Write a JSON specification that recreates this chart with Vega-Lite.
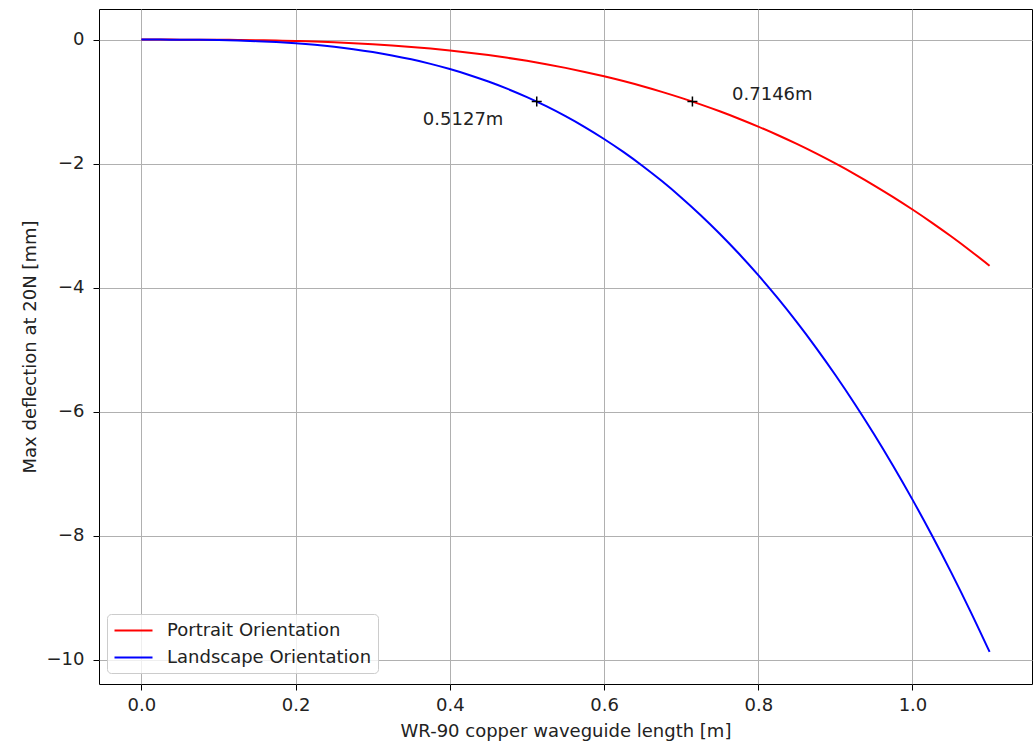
{
  "$schema": "https://vega.github.io/schema/vega-lite/v6.json",
  "width": 933,
  "height": 675,
  "autosize": {"type": "none"},
  "padding": {"left": 99, "top": 9, "right": 2, "bottom": 60},
  "background": "white",
  "config": {
    "font": "DejaVu Sans",
    "view": {"stroke": "black", "strokeWidth": 1},
    "axis": {
      "grid": true, "gridColor": "#b0b0b0", "gridWidth": 1,
      "domain": false, "tickColor": "black", "tickSize": 6, "tickWidth": 1,
      "labelFontSize": 18, "labelColor": "#222222", "labelPadding": 6,
      "titleFontSize": 18, "titleFontWeight": "normal", "titleColor": "#222222"
    }
  },
  "datasets": {
    "curves": [
      {"L": 0.0, "d": 0, "series": "Portrait Orientation"},
      {"L": 0.025, "d": -0.00004, "series": "Portrait Orientation"},
      {"L": 0.05, "d": -0.0003, "series": "Portrait Orientation"},
      {"L": 0.075, "d": -0.00116, "series": "Portrait Orientation"},
      {"L": 0.1, "d": -0.0027, "series": "Portrait Orientation"},
      {"L": 0.125, "d": -0.00535, "series": "Portrait Orientation"},
      {"L": 0.15, "d": -0.0092, "series": "Portrait Orientation"},
      {"L": 0.175, "d": -0.01469, "series": "Portrait Orientation"},
      {"L": 0.2, "d": -0.0219, "series": "Portrait Orientation"},
      {"L": 0.225, "d": -0.03122, "series": "Portrait Orientation"},
      {"L": 0.25, "d": -0.0428, "series": "Portrait Orientation"},
      {"L": 0.275, "d": -0.05699, "series": "Portrait Orientation"},
      {"L": 0.3, "d": -0.0740, "series": "Portrait Orientation"},
      {"L": 0.325, "d": -0.09407, "series": "Portrait Orientation"},
      {"L": 0.35, "d": -0.1175, "series": "Portrait Orientation"},
      {"L": 0.375, "d": -0.14451, "series": "Portrait Orientation"},
      {"L": 0.4, "d": -0.1754, "series": "Portrait Orientation"},
      {"L": 0.425, "d": -0.21037, "series": "Portrait Orientation"},
      {"L": 0.45, "d": -0.2497, "series": "Portrait Orientation"},
      {"L": 0.475, "d": -0.29369, "series": "Portrait Orientation"},
      {"L": 0.5, "d": -0.3426, "series": "Portrait Orientation"},
      {"L": 0.525, "d": -0.39654, "series": "Portrait Orientation"},
      {"L": 0.55, "d": -0.4559, "series": "Portrait Orientation"},
      {"L": 0.575, "d": -0.52097, "series": "Portrait Orientation"},
      {"L": 0.6, "d": -0.5919, "series": "Portrait Orientation"},
      {"L": 0.625, "d": -0.66904, "series": "Portrait Orientation"},
      {"L": 0.65, "d": -0.7526, "series": "Portrait Orientation"},
      {"L": 0.675, "d": -0.84280, "series": "Portrait Orientation"},
      {"L": 0.7, "d": -0.9400, "series": "Portrait Orientation"},
      {"L": 0.725, "d": -1.04431, "series": "Portrait Orientation"},
      {"L": 0.75, "d": -1.1561, "series": "Portrait Orientation"},
      {"L": 0.775, "d": -1.27561, "series": "Portrait Orientation"},
      {"L": 0.8, "d": -1.4031, "series": "Portrait Orientation"},
      {"L": 0.825, "d": -1.53878, "series": "Portrait Orientation"},
      {"L": 0.85, "d": -1.6830, "series": "Portrait Orientation"},
      {"L": 0.875, "d": -1.83585, "series": "Portrait Orientation"},
      {"L": 0.9, "d": -1.9978, "series": "Portrait Orientation"},
      {"L": 0.925, "d": -2.16890, "series": "Portrait Orientation"},
      {"L": 0.95, "d": -2.3496, "series": "Portrait Orientation"},
      {"L": 0.975, "d": -2.53997, "series": "Portrait Orientation"},
      {"L": 1.0, "d": -2.7404, "series": "Portrait Orientation"},
      {"L": 1.025, "d": -2.95111, "series": "Portrait Orientation"},
      {"L": 1.05, "d": -3.1723, "series": "Portrait Orientation"},
      {"L": 1.075, "d": -3.40439, "series": "Portrait Orientation"},
      {"L": 1.1, "d": -3.6475, "series": "Portrait Orientation"},
      {"L": 0.0, "d": 0, "series": "Landscape Orientation"},
      {"L": 0.025, "d": -0.00012, "series": "Landscape Orientation"},
      {"L": 0.05, "d": -0.0009, "series": "Landscape Orientation"},
      {"L": 0.075, "d": -0.00313, "series": "Landscape Orientation"},
      {"L": 0.1, "d": -0.0074, "series": "Landscape Orientation"},
      {"L": 0.125, "d": -0.01449, "series": "Landscape Orientation"},
      {"L": 0.15, "d": -0.0250, "series": "Landscape Orientation"},
      {"L": 0.175, "d": -0.03976, "series": "Landscape Orientation"},
      {"L": 0.2, "d": -0.0594, "series": "Landscape Orientation"},
      {"L": 0.225, "d": -0.08452, "series": "Landscape Orientation"},
      {"L": 0.25, "d": -0.1159, "series": "Landscape Orientation"},
      {"L": 0.275, "d": -0.15431, "series": "Landscape Orientation"},
      {"L": 0.3, "d": -0.2003, "series": "Landscape Orientation"},
      {"L": 0.325, "d": -0.25471, "series": "Landscape Orientation"},
      {"L": 0.35, "d": -0.3181, "series": "Landscape Orientation"},
      {"L": 0.375, "d": -0.39129, "series": "Landscape Orientation"},
      {"L": 0.4, "d": -0.4749, "series": "Landscape Orientation"},
      {"L": 0.425, "d": -0.56960, "series": "Landscape Orientation"},
      {"L": 0.45, "d": -0.6761, "series": "Landscape Orientation"},
      {"L": 0.475, "d": -0.79522, "series": "Landscape Orientation"},
      {"L": 0.5, "d": -0.9275, "series": "Landscape Orientation"},
      {"L": 0.525, "d": -1.07370, "series": "Landscape Orientation"},
      {"L": 0.55, "d": -1.2345, "series": "Landscape Orientation"},
      {"L": 0.575, "d": -1.41061, "series": "Landscape Orientation"},
      {"L": 0.6, "d": -1.6027, "series": "Landscape Orientation"},
      {"L": 0.625, "d": -1.81153, "series": "Landscape Orientation"},
      {"L": 0.65, "d": -2.0377, "series": "Landscape Orientation"},
      {"L": 0.675, "d": -2.28200, "series": "Landscape Orientation"},
      {"L": 0.7, "d": -2.5451, "series": "Landscape Orientation"},
      {"L": 0.725, "d": -2.82760, "series": "Landscape Orientation"},
      {"L": 0.75, "d": -3.1303, "series": "Landscape Orientation"},
      {"L": 0.775, "d": -3.45389, "series": "Landscape Orientation"},
      {"L": 0.8, "d": -3.7990, "series": "Landscape Orientation"},
      {"L": 0.825, "d": -4.16645, "series": "Landscape Orientation"},
      {"L": 0.85, "d": -4.5568, "series": "Landscape Orientation"},
      {"L": 0.875, "d": -4.97082, "series": "Landscape Orientation"},
      {"L": 0.9, "d": -5.4092, "series": "Landscape Orientation"},
      {"L": 0.925, "d": -5.87258, "series": "Landscape Orientation"},
      {"L": 0.95, "d": -6.3617, "series": "Landscape Orientation"},
      {"L": 0.975, "d": -6.87729, "series": "Landscape Orientation"},
      {"L": 1.0, "d": -7.4200, "series": "Landscape Orientation"},
      {"L": 1.025, "d": -7.99053, "series": "Landscape Orientation"},
      {"L": 1.05, "d": -8.5896, "series": "Landscape Orientation"},
      {"L": 1.075, "d": -9.21784, "series": "Landscape Orientation"},
      {"L": 1.1, "d": -9.8760, "series": "Landscape Orientation"}
    ],
    "marks": [
      {"L": 0.5127, "d": -1, "label": "0.5127m", "tx": 0.365, "ty": -1.30},
      {"L": 0.7146, "d": -1, "label": "0.7146m", "tx": 0.766, "ty": -0.89}
    ]
  },
  "layer": [
    {
      "data": {"name": "curves"},
      "mark": {"type": "line", "strokeWidth": 2, "clip": true, "interpolate": "monotone"},
      "encoding": {
        "x": {"field": "L", "type": "quantitative",
              "scale": {"domain": [-0.055, 1.155], "nice": false, "zero": false},
              "axis": {"values": [0, 0.2, 0.4, 0.6, 0.8, 1.0], "format": ".1f",
                       "title": "WR-90 copper waveguide length [m]", "titlePadding": 8}},
        "y": {"field": "d", "type": "quantitative",
              "scale": {"domain": [-10.3938, 0.4938], "nice": false, "zero": false},
              "axis": {"values": [0, -2, -4, -6, -8, -10], "format": "d", "labelPadding": 9,
                       "title": "Max deflection at 20N [mm]", "titlePadding": 7,
                       "labelExpr": "replace(datum.label, '-', '−')"}},
        "color": {"field": "series", "type": "nominal",
                  "scale": {"domain": ["Portrait Orientation", "Landscape Orientation"], "range": ["#ff0000", "#0000ff"]},
                  "legend": {"title": null, "orient": "none", "legendX": 8, "legendY": 605,
                             "symbolType": "M-2,0L2,0", "symbolSize": 361, "symbolStrokeWidth": 2,
                             "symbolOffset": 10, "labelLimit": 500,
                             "labelFontSize": 18, "labelColor": "#222222", "labelOffset": 23,
                             "fillColor": "rgba(255,255,255,0.8)", "strokeColor": "#cccccc",
                             "cornerRadius": 4, "padding": 6, "rowPadding": 7}},
        "sort": {"field": "L"}
      }
    },
    {
      "data": {"name": "marks"},
      "mark": {"type": "point", "shape": "M-1,0L1,0M0,-1L0,1", "filled": false, "stroke": "black", "strokeWidth": 1.5, "size": 100, "opacity": 1},
      "encoding": {
        "x": {"field": "L", "type": "quantitative"},
        "y": {"field": "d", "type": "quantitative"}
      }
    },
    {
      "data": {"name": "marks"},
      "mark": {"type": "text", "align": "left", "baseline": "middle", "fontSize": 18, "color": "#222222"},
      "encoding": {
        "x": {"field": "tx", "type": "quantitative"},
        "y": {"field": "ty", "type": "quantitative"},
        "text": {"field": "label"}
      }
    }
  ]
}
